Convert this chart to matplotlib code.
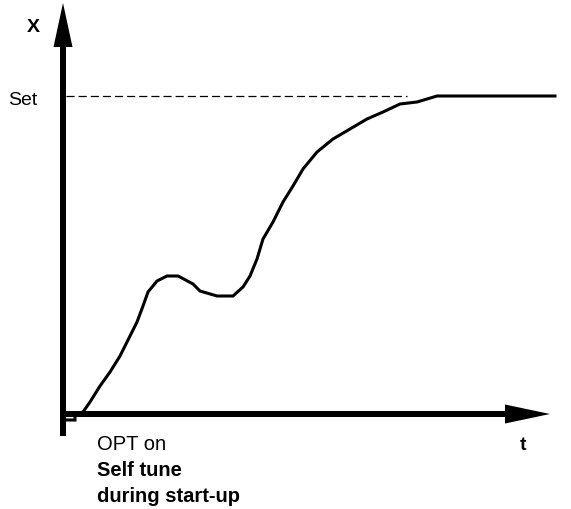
import matplotlib.pyplot as plt

plt.rcParams['font.family'] = ['Liberation Sans', 'DejaVu Sans']

# Process value X over time t during self tune at start-up
t = [3, 12, 12, 20, 27, 37, 47, 57, 64, 74, 80, 85, 94, 104, 115, 117, 130,
     137, 154, 170, 180, 187, 194, 200, 210, 220, 230, 240, 254, 270, 287,
     304, 320, 337, 354, 374, 492]
x = [-6, -6, -1, 2, 12, 28, 42, 58, 72, 92, 108, 122, 133, 138, 138, 137,
     130, 123, 118, 118, 127, 138, 155, 175, 192, 212, 228, 245, 262, 275,
     285, 295, 302, 310, 312, 318, 318]

set_point = 318
dash_end = 344
t_label = ['OPT on', 'Self tune', 'during start-up']

fig = plt.figure(figsize=(5.71, 5.10), dpi=100)
ax = fig.add_axes([0, 0, 1, 1])
ax.set_xlim(-63, 508)
ax.set_ylim(-95, 415)
ax.axis('off')

# axes as thick arrows
ax.arrow(0, -22, 0, 389, width=6, head_width=19, head_length=44,
         length_includes_head=False, color='black', lw=0)
ax.arrow(-2, 0, 444, 0, width=6, head_width=19, head_length=45,
         length_includes_head=False, color='black', lw=0)

# set point
ax.plot([3, dash_end], [set_point, set_point], color='black', lw=0.9,
        linestyle=(0, (6.5, 3.2)))

# response curve
ax.plot(t, x, color='black', lw=2.2, solid_joinstyle='miter')

ax.text(-30, 383, 'X', fontsize=14, fontweight='bold', ha='center', va='baseline')
ax.text(-55, 310, 'Set', fontsize=14, ha='left', va='baseline')
ax.text(460, -35, 't', fontsize=14, fontweight='bold', ha='center', va='baseline')
ax.text(34, -35, t_label[0], fontsize=14.5, ha='left', va='baseline')
ax.text(34, -61, t_label[1], fontsize=14.5, fontweight='bold', ha='left', va='baseline')
ax.text(34, -87, t_label[2], fontsize=14.5, fontweight='bold', ha='left', va='baseline')

fig.savefig('out.png', dpi=100)
